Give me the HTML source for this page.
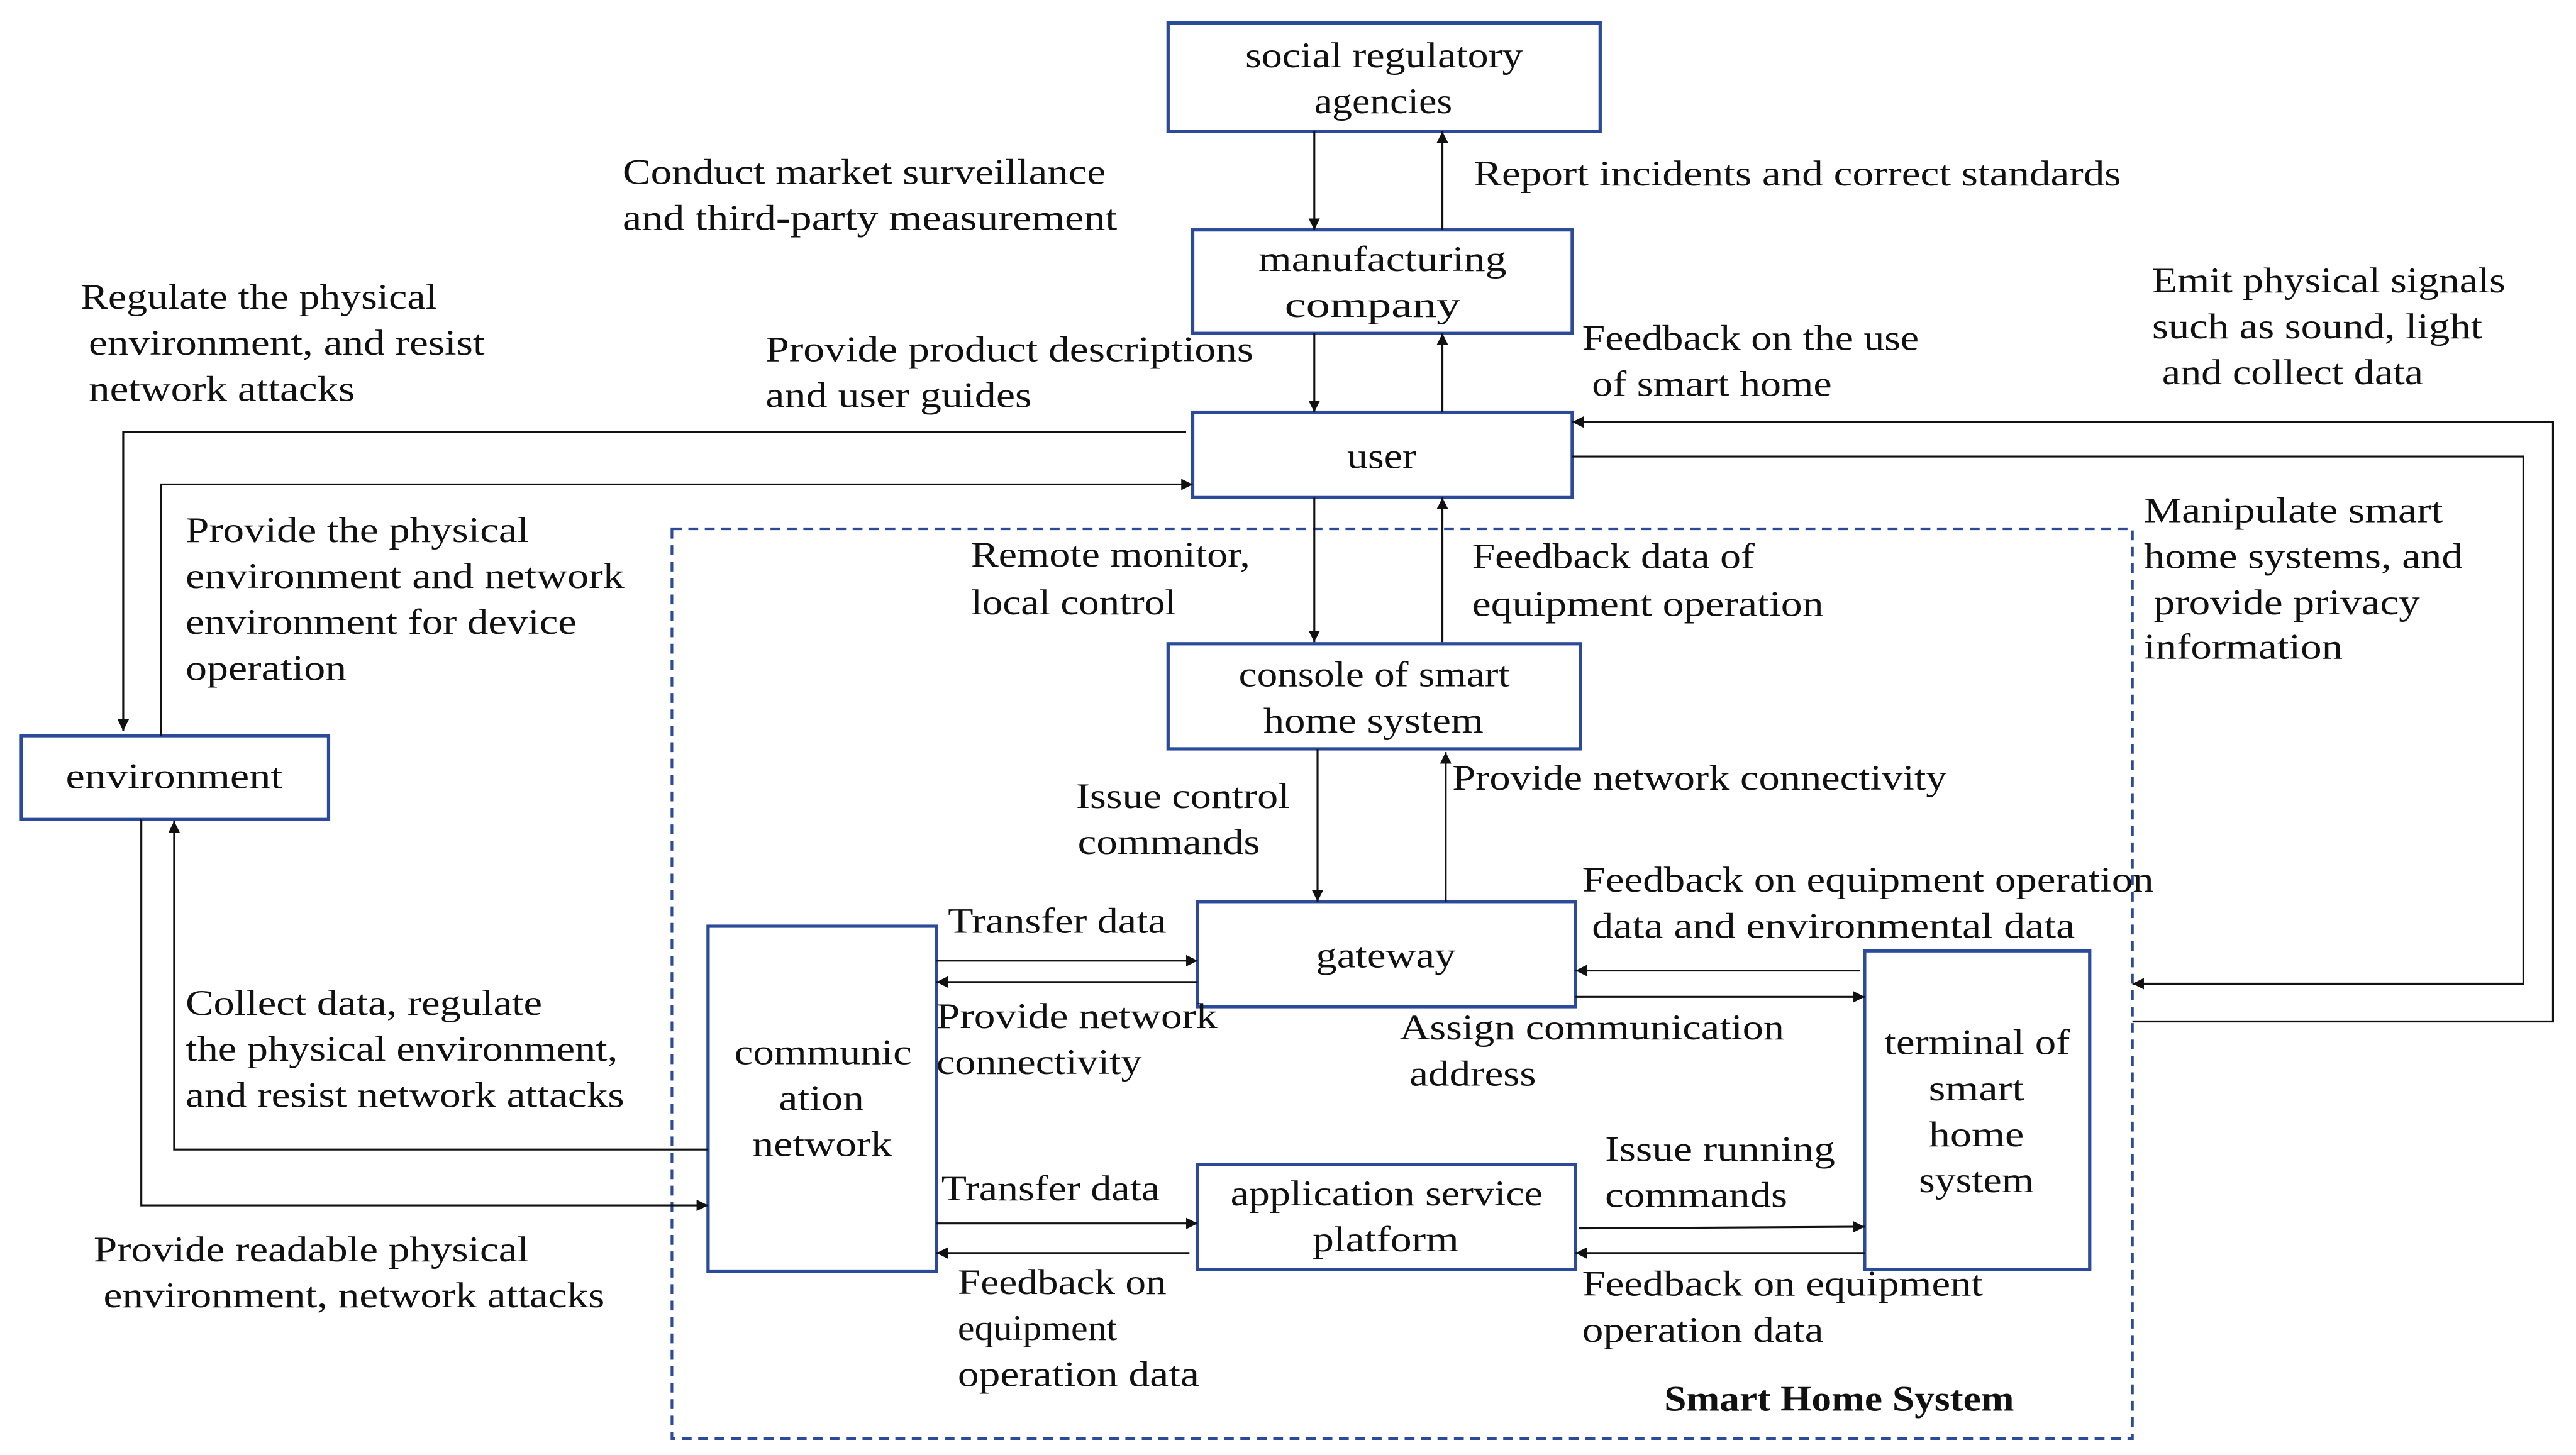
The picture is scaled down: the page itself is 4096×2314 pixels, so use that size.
<!DOCTYPE html>
<html><head><meta charset="utf-8"><style>
html,body{margin:0;padding:0;background:#fff;width:4096px;height:2314px;overflow:hidden}
svg{display:block}
text{font-family:"Liberation Serif",serif;font-size:22px;fill:#111}
</style></head><body>
<svg width="4096" height="2314" viewBox="0 0 1568 886" preserveAspectRatio="none" xmlns="http://www.w3.org/2000/svg">
<defs><marker id="a" viewBox="0 0 10 10" refX="10" refY="5" markerWidth="7" markerHeight="7" markerUnits="userSpaceOnUse" orient="auto"><path d="M0,0L10,5L0,10z" fill="#111"/></marker></defs>
<g fill="none" stroke="#2b4a9a" stroke-width="2">
<rect x="711" y="14" width="263" height="66"/>
<rect x="726" y="140" width="231" height="63"/>
<rect x="726" y="251" width="231" height="52"/>
<rect x="711" y="392" width="251" height="64"/>
<rect x="13" y="448" width="187" height="51"/>
<rect x="729" y="549" width="230" height="64"/>
<rect x="431" y="564" width="139" height="210"/>
<rect x="729" y="709" width="230" height="64"/>
<rect x="1135" y="579" width="137" height="194"/>
<rect x="409" y="322" width="889" height="554" stroke-dasharray="6,4" stroke-width="1.6"/>
</g>
<g fill="none" stroke="#111" stroke-width="1.2" marker-end="url(#a)">
<path d="M800 80V140"/><path d="M878 140V80"/>
<path d="M800 203V251"/><path d="M878 251V203"/>
<path d="M800 303V391"/><path d="M878 391V303"/>
<path d="M802 456V549"/><path d="M880 549V458"/>
<path d="M722 263H75V445"/>
<path d="M98 448V295H726"/>
<path d="M431 700H106V500"/>
<path d="M86 499V734H431"/>
<path d="M570 585H729"/><path d="M729 598H570"/>
<path d="M570 745H729"/><path d="M724 763H570"/>
<path d="M1132 591H959"/><path d="M959 607H1135"/>
<path d="M961 748L1135 747"/><path d="M1135 763H959"/>
<path d="M957 278H1536V599H1298"/>
<path d="M1298 622H1554V257H957"/>
</g>
<g text-anchor="start" lengthAdjust="spacingAndGlyphs">
<text x="758" y="41" textLength="169" lengthAdjust="spacingAndGlyphs">social regulatory</text>
<text x="800" y="69" textLength="84" lengthAdjust="spacingAndGlyphs">agencies</text>
<text x="766" y="165" textLength="151" lengthAdjust="spacingAndGlyphs">manufacturing</text>
<text x="782" y="193" textLength="107" lengthAdjust="spacingAndGlyphs">company</text>
<text x="820" y="285" textLength="42" lengthAdjust="spacingAndGlyphs">user</text>
<text x="754" y="418" textLength="165" lengthAdjust="spacingAndGlyphs">console of smart</text>
<text x="769" y="446" textLength="134" lengthAdjust="spacingAndGlyphs">home system</text>
<text x="40" y="480" textLength="132" lengthAdjust="spacingAndGlyphs">environment</text>
<text x="801" y="589" textLength="85" lengthAdjust="spacingAndGlyphs">gateway</text>
<text x="447" y="648" textLength="108" lengthAdjust="spacingAndGlyphs">communic</text>
<text x="474" y="676" textLength="52" lengthAdjust="spacingAndGlyphs">ation</text>
<text x="458" y="704" textLength="85" lengthAdjust="spacingAndGlyphs">network</text>
<text x="749" y="734" textLength="190" lengthAdjust="spacingAndGlyphs">application service</text>
<text x="799" y="762" textLength="89" lengthAdjust="spacingAndGlyphs">platform</text>
<text x="1147" y="642" textLength="113" lengthAdjust="spacingAndGlyphs">terminal of</text>
<text x="1174" y="670" textLength="58" lengthAdjust="spacingAndGlyphs">smart</text>
<text x="1174" y="698" textLength="58" lengthAdjust="spacingAndGlyphs">home</text>
<text x="1168" y="726" textLength="70" lengthAdjust="spacingAndGlyphs">system</text>
<text x="1013" y="859" textLength="213" lengthAdjust="spacingAndGlyphs" font-weight="bold">Smart Home System</text>

<text x="379" y="112" textLength="294" lengthAdjust="spacingAndGlyphs">Conduct market surveillance</text>
<text x="379" y="140" textLength="301" lengthAdjust="spacingAndGlyphs">and third-party measurement</text>
<text x="897" y="113" textLength="394" lengthAdjust="spacingAndGlyphs">Report incidents and correct standards</text>
<text x="49" y="188" textLength="217" lengthAdjust="spacingAndGlyphs">Regulate the physical</text>
<text x="54" y="216" textLength="241" lengthAdjust="spacingAndGlyphs">environment, and resist</text>
<text x="54" y="244" textLength="162" lengthAdjust="spacingAndGlyphs">network attacks</text>
<text x="466" y="220" textLength="297" lengthAdjust="spacingAndGlyphs">Provide product descriptions</text>
<text x="466" y="248" textLength="162" lengthAdjust="spacingAndGlyphs">and user guides</text>
<text x="963" y="213" textLength="205" lengthAdjust="spacingAndGlyphs">Feedback on the use</text>
<text x="969" y="241" textLength="146" lengthAdjust="spacingAndGlyphs">of smart home</text>
<text x="1310" y="178" textLength="215" lengthAdjust="spacingAndGlyphs">Emit physical signals</text>
<text x="1310" y="206" textLength="201" lengthAdjust="spacingAndGlyphs">such as sound, light</text>
<text x="1316" y="234" textLength="159" lengthAdjust="spacingAndGlyphs">and collect data</text>
<text x="113" y="330" textLength="209" lengthAdjust="spacingAndGlyphs">Provide the physical</text>
<text x="113" y="358" textLength="267" lengthAdjust="spacingAndGlyphs">environment and network</text>
<text x="113" y="386" textLength="238" lengthAdjust="spacingAndGlyphs">environment for device</text>
<text x="113" y="414" textLength="98" lengthAdjust="spacingAndGlyphs">operation</text>
<text x="591" y="345" textLength="170" lengthAdjust="spacingAndGlyphs">Remote monitor,</text>
<text x="591" y="374" textLength="125" lengthAdjust="spacingAndGlyphs">local control</text>
<text x="896" y="346" textLength="172" lengthAdjust="spacingAndGlyphs">Feedback data of</text>
<text x="896" y="375" textLength="214" lengthAdjust="spacingAndGlyphs">equipment operation</text>
<text x="1305" y="318" textLength="182" lengthAdjust="spacingAndGlyphs">Manipulate smart</text>
<text x="1305" y="346" textLength="194" lengthAdjust="spacingAndGlyphs">home systems, and</text>
<text x="1311" y="374" textLength="162" lengthAdjust="spacingAndGlyphs">provide privacy</text>
<text x="1305" y="401" textLength="121" lengthAdjust="spacingAndGlyphs">information</text>
<text x="655" y="492" textLength="130" lengthAdjust="spacingAndGlyphs">Issue control</text>
<text x="656" y="520" textLength="111" lengthAdjust="spacingAndGlyphs">commands</text>
<text x="884" y="481" textLength="301" lengthAdjust="spacingAndGlyphs">Provide network connectivity</text>
<text x="963" y="543" textLength="348" lengthAdjust="spacingAndGlyphs">Feedback on equipment operation</text>
<text x="969" y="571" textLength="294" lengthAdjust="spacingAndGlyphs">data and environmental data</text>
<text x="577" y="568" textLength="133" lengthAdjust="spacingAndGlyphs">Transfer data</text>
<text x="570" y="626" textLength="171" lengthAdjust="spacingAndGlyphs">Provide network</text>
<text x="570" y="654" textLength="125" lengthAdjust="spacingAndGlyphs">connectivity</text>
<text x="852" y="633" textLength="234" lengthAdjust="spacingAndGlyphs">Assign communication</text>
<text x="858" y="661" textLength="77" lengthAdjust="spacingAndGlyphs">address</text>
<text x="113" y="618" textLength="217" lengthAdjust="spacingAndGlyphs">Collect data, regulate</text>
<text x="113" y="646" textLength="263" lengthAdjust="spacingAndGlyphs">the physical environment,</text>
<text x="113" y="674" textLength="267" lengthAdjust="spacingAndGlyphs">and resist network attacks</text>
<text x="573" y="731" textLength="133" lengthAdjust="spacingAndGlyphs">Transfer data</text>
<text x="977" y="707" textLength="140" lengthAdjust="spacingAndGlyphs">Issue running</text>
<text x="977" y="735" textLength="111" lengthAdjust="spacingAndGlyphs">commands</text>
<text x="57" y="768" textLength="265" lengthAdjust="spacingAndGlyphs">Provide readable physical</text>
<text x="63" y="796" textLength="305" lengthAdjust="spacingAndGlyphs">environment, network attacks</text>
<text x="583" y="788" textLength="127" lengthAdjust="spacingAndGlyphs">Feedback on</text>
<text x="583" y="816" textLength="97" lengthAdjust="spacingAndGlyphs">equipment</text>
<text x="583" y="844" textLength="147" lengthAdjust="spacingAndGlyphs">operation data</text>
<text x="963" y="789" textLength="244" lengthAdjust="spacingAndGlyphs">Feedback on equipment</text>
<text x="963" y="817" textLength="147" lengthAdjust="spacingAndGlyphs">operation data</text>
</g>
</svg>
</body></html>
